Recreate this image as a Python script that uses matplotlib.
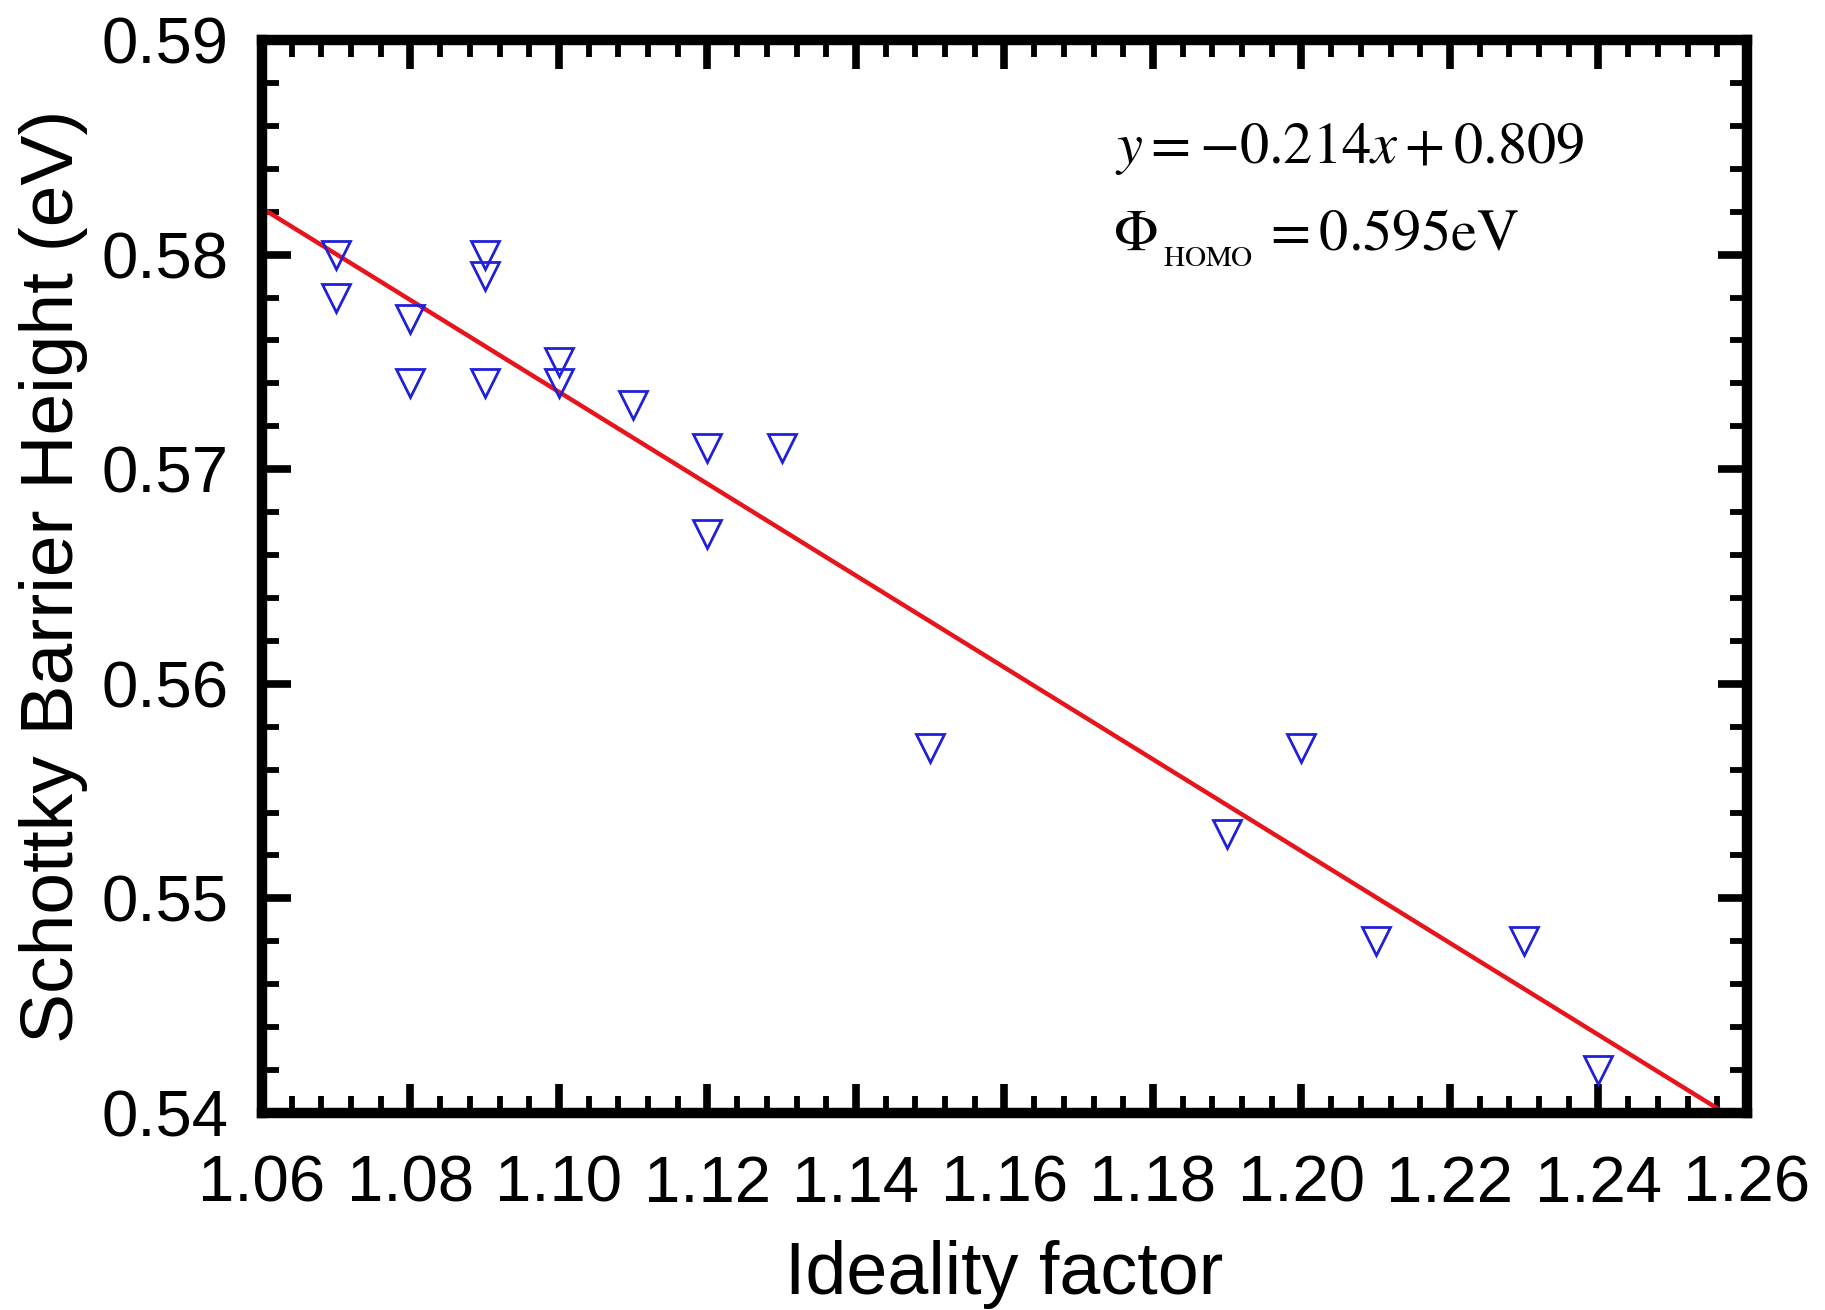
import matplotlib
matplotlib.use("Agg")
import matplotlib.pyplot as plt
import numpy as np
from matplotlib.ticker import MultipleLocator, FormatStrFormatter

# Data
ideality = [1.07, 1.07, 1.08, 1.08, 1.09, 1.09, 1.09, 1.10, 1.10, 1.11,
            1.12, 1.12, 1.13, 1.15, 1.19, 1.20, 1.21, 1.23, 1.24]
barrier = [0.580, 0.578, 0.577, 0.574, 0.580, 0.579, 0.574, 0.575, 0.574, 0.573,
           0.571, 0.567, 0.571, 0.557, 0.553, 0.557, 0.548, 0.548, 0.542]
fit_slope = -0.214
fit_intercept = 0.809
x_ticks = [1.06, 1.08, 1.10, 1.12, 1.14, 1.16, 1.18, 1.20, 1.22, 1.24, 1.26]
y_ticks = [0.54, 0.55, 0.56, 0.57, 0.58, 0.59]

plt.rcParams['font.family'] = ['Liberation Sans', 'DejaVu Sans']
plt.rcParams['mathtext.fontset'] = 'stix'

W, H = 1825, 1310
L, R, T, B = 262, 1747, 40, 1113
fig = plt.figure(figsize=(W / 100, H / 100), dpi=100)
ax = fig.add_axes([L / W, 1 - B / H, (R - L) / W, (B - T) / H])

ax.plot(ideality, barrier, linestyle='none', marker='v', markersize=19.5,
        markerfacecolor='none', markeredgecolor='#2020d8', markeredgewidth=2.0,
        zorder=3)

x_end = (0.54 - fit_intercept) / fit_slope
xf = np.array([1.06, x_end])
ax.plot(xf, fit_slope * xf + fit_intercept, color='#e8141c', linewidth=3.2, zorder=2)

ax.set_xlim(1.06, 1.26)
ax.set_ylim(0.54, 0.59)
ax.set_xticks(x_ticks)
ax.set_yticks(y_ticks)
ax.xaxis.set_major_formatter(FormatStrFormatter('%.2f'))
ax.yaxis.set_major_formatter(FormatStrFormatter('%.2f'))
ax.xaxis.set_minor_locator(MultipleLocator(0.004))
ax.yaxis.set_minor_locator(MultipleLocator(0.002))

for s in ax.spines.values():
    s.set_linewidth(7.5)
    s.set_color('black')

ax.tick_params(which='both', direction='in', top=True, right=True, color='black')
ax.tick_params(which='major', length=21, width=5.5, labelsize=47)
ax.tick_params(which='minor', length=12, width=4.2)
ax.tick_params(axis='x', which='major', pad=30)
ax.tick_params(axis='y', which='major', pad=24)

ax.set_xlabel('Ideality factor', fontsize=53)
ax.set_ylabel('Schottky Barrier Height (eV)', fontsize=54)
ax.xaxis.set_label_coords(0.5, -0.118)
ax.yaxis.set_label_coords(-0.117, 0.5)


def axfrac(px, py):
    return (px - L) / (R - L), (B - py) / (B - T)


ax.text(*axfrac(1115, 163), r'$y = -0.214x + 0.809$', transform=ax.transAxes,
        fontsize=42, va='baseline', ha='left')
ax.text(*axfrac(1113, 250), r'$\Phi$', transform=ax.transAxes,
        fontsize=42, va='baseline', ha='left')
ax.text(*axfrac(1163, 266), r'$\mathrm{HOMO}$', transform=ax.transAxes,
        fontsize=21, va='baseline', ha='left')
ax.text(*axfrac(1262, 250), r'$= 0.595\mathrm{eV}$', transform=ax.transAxes,
        fontsize=42, va='baseline', ha='left')

fig.savefig('out.png', dpi=100)
